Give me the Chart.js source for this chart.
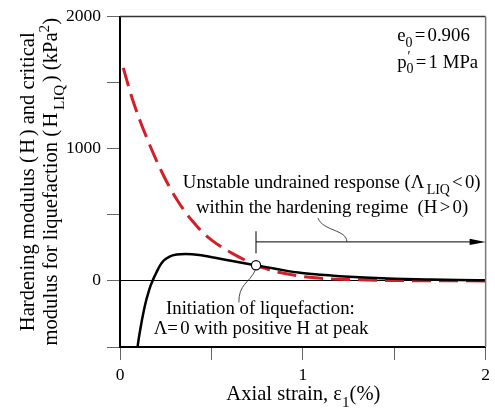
<!DOCTYPE html>
<html>
<head>
<meta charset="utf-8">
<script src="https://cdn.jsdelivr.net/npm/chart.js@4/dist/chart.umd.min.js"></script>
<style>
  html, body { margin: 0; padding: 0; background: #fff; }
  #wrap { width: 495px; height: 410px; }
</style>
</head>
<body>
<div id="wrap"><canvas id="c" width="495" height="410"></canvas></div>
<script>
// Hardening modulus H (kPa^2) versus axial strain (%)
const strainH   = [0.096, 0.105, 0.115, 0.126, 0.14, 0.155, 0.166, 0.178, 0.19, 0.2, 0.217, 0.24, 0.271, 0.31, 0.36, 0.433, 0.52, 0.614, 0.744, 0.85, 0.975, 1.1, 1.2, 1.336, 1.5, 1.7, 1.85, 2.0];
const modulusH  = [-500, -415, -335, -255, -165, -90, -42, 0, 38, 66, 112, 155, 184, 199, 203, 196, 175, 150, 118, 92, 63, 46, 36, 25, 16, 10, 7, 5];

// Critical modulus for liquefaction H_LIQ (kPa^2)
const strainLiq  = [0.018, 0.045, 0.075, 0.11, 0.15, 0.19, 0.23, 0.27, 0.31, 0.36, 0.4, 0.45, 0.505, 0.56, 0.614, 0.68, 0.744, 0.8, 0.875, 0.975, 1.1, 1.25, 1.4, 1.6, 1.8, 2.0];
const modulusLiq = [1612, 1480, 1345, 1210, 1070, 940, 820, 712, 618, 515, 447, 370, 305, 252, 208, 160, 118, 92, 63, 38, 20, 10, 5, 2, 1, 0];

// Onset of liquefaction (H = H_LIQ at positive H)
const onsetStrain  = [0.744];
const onsetModulus = [118];

// Tick labels
const xTickLabels = ['0', '1', '2'];
const yTickLabels = ['0', '1000', '2000'];

const SERIF = '"Liberation Serif", "Times New Roman", serif';
const SMALL = 0.74;

function pairs(xs, ys) { return xs.map((x, i) => ({ x: x, y: ys[i] })); }

// Text with subscripts / superscripts: segs = [[text, mode], ...]
// mode: '' normal, 'sub', 'sup', 'subsup' (two stacked strings), 'gap' (text = width in em)
function segWidth(ctx, t, mode, size) {
  if (mode === 'gap') return t * size;
  if (mode === 'subsup') {
    ctx.font = (size * SMALL) + 'px ' + SERIF;
    return Math.max(ctx.measureText(t[0]).width, ctx.measureText(t[1]).width);
  }
  ctx.font = (mode ? size * SMALL : size) + 'px ' + SERIF;
  return ctx.measureText(t).width;
}
function drawRich(ctx, segs, x, y, size, align) {
  let w = 0;
  for (const [t, mode] of segs) w += segWidth(ctx, t, mode, size);
  let cx = align === 'center' ? x - w / 2 : align === 'right' ? x - w : x;
  ctx.textAlign = 'left';
  ctx.textBaseline = 'alphabetic';
  for (const [t, mode] of segs) {
    const sw = segWidth(ctx, t, mode, size);
    if (mode === 'subsup') {
      ctx.fillText(t[0], cx + 1, y - size * 0.34);
      ctx.fillText(t[1], cx, y + size * 0.3);
    } else if (mode !== 'gap') {
      const dy = mode === 'sub' ? size * 0.34 : mode === 'sup' ? -size * 0.4 : 0;
      ctx.fillText(t, cx, y + dy);
    }
    cx += sw;
  }
}

const G = [0.12, 'gap'];

const decorations = {
  id: 'decorations',
  afterDatasetsDraw(chart) {
    const ctx = chart.ctx;
    const xs = chart.scales.x, ys = chart.scales.y;
    const a = chart.chartArea;
    const X = v => xs.getPixelForValue(v);
    const Y = v => ys.getPixelForValue(v);
    ctx.save();

    // frame: top and right edges
    ctx.lineWidth = 1.5;
    ctx.strokeStyle = '#333';
    ctx.beginPath(); ctx.moveTo(a.left, a.top); ctx.lineTo(a.right, a.top); ctx.stroke();
    ctx.strokeStyle = '#777';
    ctx.beginPath(); ctx.moveTo(a.right, a.top); ctx.lineTo(a.right, a.bottom); ctx.stroke();

    // arrow marking the unstable range
    ctx.strokeStyle = '#000';
    ctx.fillStyle = '#000';
    ctx.lineWidth = 1;
    const ay = Y(295), ax0 = X(onsetStrain[0]), ax1 = X(2);
    ctx.beginPath(); ctx.moveTo(ax0, Y(208)); ctx.lineTo(ax0, Y(375)); ctx.stroke();
    ctx.beginPath(); ctx.moveTo(ax0, ay); ctx.lineTo(ax1 - 10, ay); ctx.stroke();
    ctx.beginPath(); ctx.moveTo(ax1, ay); ctx.lineTo(ax1 - 16, ay - 3.2); ctx.lineTo(ax1 - 16, ay + 3.2); ctx.closePath(); ctx.fill();

    // curly leaders
    ctx.lineWidth = 0.9;
    ctx.strokeStyle = '#333';
    ctx.beginPath();
    ctx.moveTo(X(1.241), ay);
    ctx.bezierCurveTo(X(1.241), Y(390), X(1.11), Y(375), X(1.083), Y(475));
    ctx.stroke();
    ctx.beginPath();
    ctx.moveTo(X(0.740), Y(80));
    ctx.bezierCurveTo(X(0.704), Y(-22), X(0.65), Y(-22), X(0.650), Y(-163));
    ctx.stroke();

    // annotation text
    ctx.fillStyle = '#000';
    const fs = 18.8;
    drawRich(ctx, [['Unstable undrained response (Λ', ''], G, ['LIQ', 'sub'], G, ['<', ''], G, ['0)', '']], X(1.158), Y(705), fs, 'center');
    drawRich(ctx, [['within the hardening regime  (H', ''], G, ['>', ''], G, ['0)', '']], X(1.160), Y(512), fs, 'center');
    drawRich(ctx, [['Initiation of liquefaction:', '']], X(0.768), Y(-248), fs, 'center');
    drawRich(ctx, [['Λ=', ''], G, ['0 with positive H at peak', '']], X(0.772), Y(-405), fs, 'center');
    drawRich(ctx, [['e', ''], ['0', 'sub'], G, ['=', ''], G, ['0.906', '']], X(1.516), Y(1815), fs, 'left');
    drawRich(ctx, [['p', ''], [['′', '0'], 'subsup'], G, ['=', ''], G, ['1 MPa', '']], X(1.516), Y(1613), fs, 'left');

    // axis titles
    const ts = 20.6;
    drawRich(ctx, [['Axial strain, ε', ''], ['1', 'sub'], ['(%)', '']], X(1.003), 400, ts, 'center');
    const midY = (a.top + a.bottom) / 2;
    ctx.save();
    ctx.translate(34, midY);
    ctx.rotate(-Math.PI / 2);
    drawRich(ctx, [['Hardening modulus (', ''], G, ['H', ''], G, [') and critical', '']], 0, 0, ts, 'center');
    ctx.restore();
    ctx.save();
    ctx.translate(57, midY);
    ctx.rotate(-Math.PI / 2);
    drawRich(ctx, [['modulus for liquefaction (', ''], G, ['H', ''], G, ['LIQ', 'sub'], G, [') (kPa', ''], ['2', 'sup'], [')', '']], 0, 0, ts, 'center');
    ctx.restore();

    ctx.restore();
  }
};

new Chart(document.getElementById('c'), {
  type: 'scatter',
  data: {
    datasets: [
      {
        label: 'H_LIQ',
        data: pairs(strainLiq, modulusLiq),
        showLine: true,
        borderColor: '#d21f29',
        borderWidth: 3,
        borderDash: [19, 8],
        pointRadius: 0,
        cubicInterpolationMode: 'monotone',
        order: 2
      },
      {
        label: 'H',
        data: pairs(strainH, modulusH),
        showLine: true,
        borderColor: '#000',
        borderWidth: 2.5,
        pointRadius: 0,
        cubicInterpolationMode: 'monotone',
        order: 1
      },
      {
        label: 'onset',
        data: pairs(onsetStrain, onsetModulus),
        showLine: false,
        pointRadius: 4.6,
        pointBackgroundColor: '#fff',
        pointBorderColor: '#000',
        pointBorderWidth: 1.2,
        order: 0
      }
    ]
  },
  options: {
    responsive: false,
    animation: false,
    devicePixelRatio: 1,
    layout: { padding: { top: 14, right: 6, left: 0, bottom: 0 } },
    plugins: { legend: { display: false }, tooltip: { enabled: false } },
    scales: {
      x: {
        type: 'linear',
        min: 0, max: 2,
        afterFit(s) { s.height = 63; },
        ticks: {
          stepSize: 0.5,
          padding: 5,
          color: '#000',
          font: { family: SERIF, size: 17.5 },
          maxRotation: 0,
          callback(v) { return Number.isInteger(v) ? xTickLabels[v] : ''; }
        },
        grid: { drawOnChartArea: false, tickLength: 13, tickColor: '#666', lineWidth: 1 },
        border: { display: true, color: '#000', width: 2 }
      },
      y: {
        type: 'linear',
        min: -500, max: 2000,
        afterFit(s) { s.width = 120; },
        ticks: {
          stepSize: 500,
          padding: 6,
          color: '#000',
          font: { family: SERIF, size: 17.5 },
          callback(v) { return v >= 0 && v % 1000 === 0 ? yTickLabels[v / 1000] : ''; }
        },
        grid: {
          drawOnChartArea: true,
          tickLength: 13,
          lineWidth: 1,
          tickColor: '#666',
          color(c) { return c.tick && c.tick.value === 0 ? '#000' : 'rgba(0,0,0,0)'; }
        },
        border: { display: true, color: '#000', width: 2 }
      }
    }
  },
  plugins: [decorations]
});
</script>
</body>
</html>
